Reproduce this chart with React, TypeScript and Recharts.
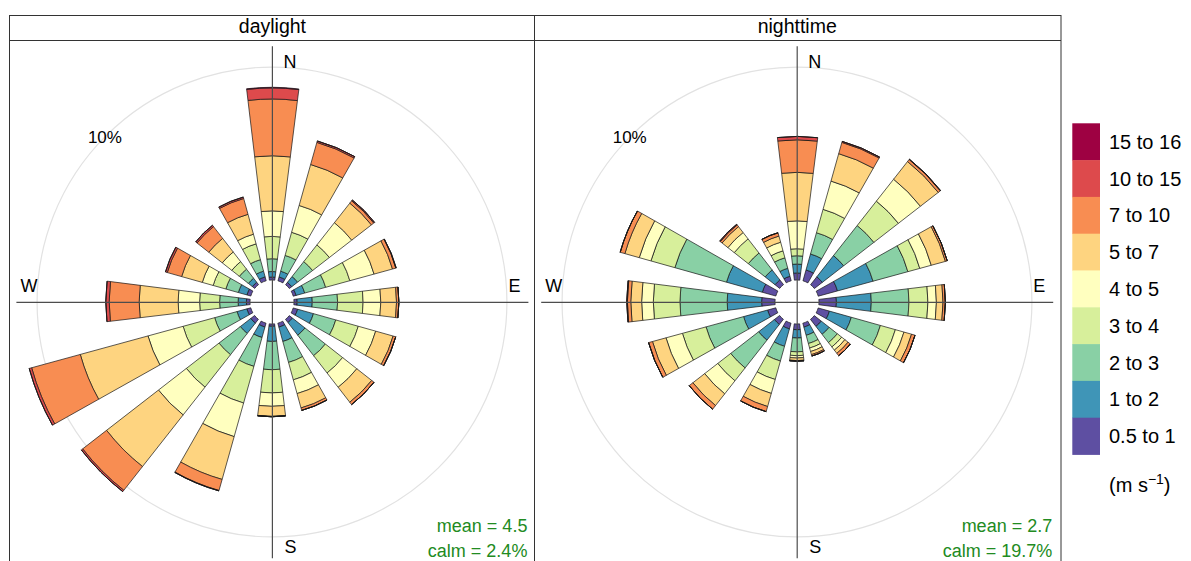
import React from 'react';
import {
  RadialBarChart,
  RadialBar,
  PolarAngleAxis,
  PolarRadiusAxis,
  PolarGrid
} from 'recharts';

const DIRECTIONS = ['N', 'NNE', 'NE', 'ENE', 'E', 'ESE', 'SE', 'SSE', 'S', 'SSW', 'SW', 'WSW', 'W', 'WNW', 'NW', 'NNW'];

const SPEED_LABELS = ['0.5 to 1', '1 to 2', '2 to 3', '3 to 4', '4 to 5', '5 to 7', '7 to 10', '10 to 15', '15 to 16'];
const SPEED_COLORS = ['#5E4FA2', '#3F95B7', '#89D0A5', '#D7EF9B', '#FFFFBF', '#FED480', '#F88D52', '#DD4A4C', '#9E0142'];

// daylight: frequency (%) per direction, one array per speed bin
const day05to1 = [0.14, 0.19, 0.14, 0.14, 0.15, 0.22, 0.19, 0.19, 0.11, 0.19, 0.23, 0.19, 0.17, 0.19, 0.14, 0.19];
const day1to2 = [0.26, 0.28, 0.35, 0.42, 0.71, 0.77, 0.75, 0.7, 0.71, 0.51, 0.62, 0.48, 0.39, 0.42, 0.24, 0.28];
const day2to3 = [0.6, 0.77, 0.89, 1.02, 1.19, 1.09, 1.22, 1.02, 1.33, 1.41, 1.27, 1.09, 0.87, 0.61, 0.54, 0.56];
const day3to4 = [1.05, 1.13, 1.0, 1.18, 1.2, 1.1, 1.03, 0.85, 1.09, 1.79, 1.94, 1.54, 0.94, 0.62, 0.45, 0.77];
const day4to5 = [1.2, 1.31, 1.33, 1.18, 0.83, 0.85, 0.85, 0.67, 0.63, 1.64, 1.66, 1.71, 1.01, 0.53, 0.57, 0.47];
const day5to7 = [2.59, 2.0, 1.17, 0.9, 0.74, 0.85, 0.89, 0.7, 0.47, 2.09, 3.09, 3.3, 1.83, 1.01, 0.81, 0.97];
const day7to10 = [2.67, 1.08, 0.14, 0.16, 0.11, 0.13, 0.14, 0.12, 0.02, 0.54, 1.42, 2.37, 1.41, 0.7, 0.7, 0.77];
const day10to15 = [0.52, 0.07, 0.05, 0.02, 0, 0, 0, 0, 0, 0.02, 0.08, 0.12, 0.16, 0.09, 0.08, 0.07];
const day15to16 = [0.03, 0, 0, 0, 0, 0, 0, 0, 0, 0, 0, 0, 0, 0, 0, 0];

// nighttime
const night05to1 = [0.33, 0.53, 0.47, 0.94, 0.82, 0.55, 0.42, 0.19, 0.27, 0.28, 0.31, 0.4, 0.63, 0.66, 0.28, 0.22];
const night1to2 = [0.42, 0.78, 1.27, 1.73, 1.64, 1.07, 0.47, 0.4, 0.39, 0.85, 0.94, 1.17, 1.62, 1.75, 0.59, 0.39];
const night2to3 = [0.39, 1.04, 1.8, 1.7, 1.77, 1.42, 0.49, 0.4, 0.65, 0.72, 1.66, 1.83, 2.22, 2.52, 1.01, 0.51];
const night3to4 = [0.33, 1.14, 1.46, 0.58, 0.89, 0.73, 0.26, 0.22, 0.18, 0.9, 0.77, 1.15, 1.25, 1.17, 0.84, 0.34];
const night4to5 = [1.31, 1.38, 1.31, 0.56, 0.4, 0.42, 0.19, 0.17, 0.11, 0.68, 0.78, 0.8, 0.55, 0.57, 0.38, 0.42];
const night5to7 = [2.28, 1.34, 1.06, 0.69, 0.31, 0.37, 0.19, 0.15, 0.12, 0.64, 0.7, 0.66, 0.51, 0.7, 0.35, 0.3];
const night7to10 = [1.53, 0.55, 0.12, 0.09, 0.11, 0.17, 0.14, 0.07, 0.03, 0.25, 0.22, 0.19, 0.16, 0.23, 0.1, 0.16];
const night10to15 = [0.16, 0.05, 0.02, 0, 0, 0, 0, 0, 0, 0, 0, 0, 0.03, 0, 0.04, 0];
const night15to16 = [0, 0, 0, 0, 0, 0, 0, 0, 0, 0, 0, 0, 0, 0, 0, 0];

const DAY_BINS = [day05to1, day1to2, day2to3, day3to4, day4to5, day5to7, day7to10, day10to15, day15to16];
const NIGHT_BINS = [night05to1, night1to2, night2to3, night3to4, night4to5, night5to7, night7to10, night10to15, night15to16];

const PANEL_TITLES = ['daylight', 'nighttime'];
const PANEL_MEANS = ['4.5', '2.7'];
const PANEL_CALMS = ['2.4%', '19.7%'];

// geometry
const SIZE = 520;
const INNER = 22; // calm circle
const OUTER = 256;
const R_MAX = 10.99; // % reached at OUTER
const GRID_PCT = 10;
const GRID_R = INNER + (GRID_PCT / R_MAX) * (OUTER - INNER);
const CENTERS = [272.4, 797.2];
const CY = 302.3;
const FONT = '"Liberation Sans", Arial, sans-serif';

function buildRows(bins: number[][]) {
  return DIRECTIONS.map((dir, i) => {
    const row: Record<string, string | number> = { dir };
    bins.forEach((vals, b) => {
      row[`b${b}`] = vals[i];
    });
    return row;
  });
}

function WindRose({ bins }: { bins: number[][] }) {
  const data = buildRows(bins);
  // first band starts half a sector before north, going clockwise
  return (
    <RadialBarChart
      width={SIZE}
      height={SIZE}
      data={data}
      layout="centric"
      innerRadius={INNER}
      outerRadius={OUTER}
      startAngle={90 - 11.25}
      endAngle={90 - 11.25 - 360}
      barCategoryGap="18%"
      margin={{ top: 0, right: 0, bottom: 0, left: 0 }}
    >
      <PolarGrid gridType="circle" polarRadius={[GRID_R]} polarAngles={[]} radialLines={false} stroke="#e2e2e2" strokeWidth={1.2} />
      <PolarAngleAxis type="category" dataKey="dir" tick={false} axisLine={false} tickLine={false} />
      <PolarRadiusAxis type="number" domain={[0, R_MAX]} allowDataOverflow tick={false} axisLine={false} tickLine={false} />
      {SPEED_LABELS.map((label, b) => (
        <RadialBar
          key={label}
          dataKey={`b${b}`}
          stackId="ws"
          fill={SPEED_COLORS[b]}
          stroke="#151515"
          strokeWidth={0.7}
          isAnimationActive={false}
        />
      ))}
    </RadialBarChart>
  );
}

function Overlay() {
  const legendTop = 123.3;
  const boxH = 36.8;
  return (
    <svg width={1191} height={561} style={{ position: 'absolute', left: 0, top: 0, pointerEvents: 'none' }} fontFamily={FONT}>
      {/* panel frame and strips */}
      <rect x={9.5} y={15.5} width={1051.5} height={600} fill="none" stroke="#333" strokeWidth={1} />
      <line x1={9.5} y1={40.5} x2={1061} y2={40.5} stroke="#333" strokeWidth={1} />
      <line x1={534.5} y1={15.5} x2={534.5} y2={561} stroke="#333" strokeWidth={1} />

      {CENTERS.map((cx, p) => (
        <g key={PANEL_TITLES[p]}>
          <text x={cx} y={33} textAnchor="middle" fontSize={19.5} fill="#000">{PANEL_TITLES[p]}</text>
          <line x1={cx} y1={CY - OUTER} x2={cx} y2={CY + OUTER} stroke="#4d4d4d" strokeWidth={1.2} />
          <line x1={cx - OUTER} y1={CY} x2={cx + OUTER} y2={CY} stroke="#4d4d4d" strokeWidth={1.2} />
          <text x={cx + 11} y={68} fontSize={18} fill="#000">N</text>
          <text x={cx + 12} y={553} fontSize={18} fill="#000">S</text>
          <text x={cx + 236} y={292} fontSize={18} fill="#000">E</text>
          <text x={cx - 252} y={292} fontSize={18} fill="#000">W</text>
          <text x={cx - 184.5} y={143} fontSize={17} fill="#000">10%</text>
          <text x={cx + 255} y={532} textAnchor="end" fontSize={18} fill="#228B22">{`mean = ${PANEL_MEANS[p]}`}</text>
          <text x={cx + 255} y={556.5} textAnchor="end" fontSize={18} fill="#228B22">{`calm = ${PANEL_CALMS[p]}`}</text>
        </g>
      ))}

      {/* speed key, highest bin on top */}
      {SPEED_LABELS.slice().reverse().map((label, i) => {
        const color = SPEED_COLORS[SPEED_COLORS.length - 1 - i];
        const y = legendTop + i * boxH;
        return (
          <g key={label}>
            <rect x={1072.3} y={y} width={27.7} height={boxH + 0.4} fill={color} />
            <text x={1109} y={y + boxH / 2 + 7} fontSize={20} fill="#000">{label}</text>
          </g>
        );
      })}
      <text x={1109} y={492} fontSize={20} fill="#000">
        (m s<tspan dy={-8} fontSize={14}>−1</tspan><tspan dy={8}>)</tspan>
      </text>
    </svg>
  );
}

export default function App() {
  return (
    <div style={{ position: 'absolute', left: 0, top: 0, width: 1191, height: 561, overflow: 'hidden', background: '#fff', fontFamily: FONT }}>
      {CENTERS.map((cx, p) => (
        <div key={PANEL_TITLES[p]} style={{ position: 'absolute', left: cx - SIZE / 2, top: CY - SIZE / 2, width: SIZE, height: SIZE }}>
          <WindRose bins={p === 0 ? DAY_BINS : NIGHT_BINS} />
        </div>
      ))}
      <Overlay />
    </div>
  );
}
